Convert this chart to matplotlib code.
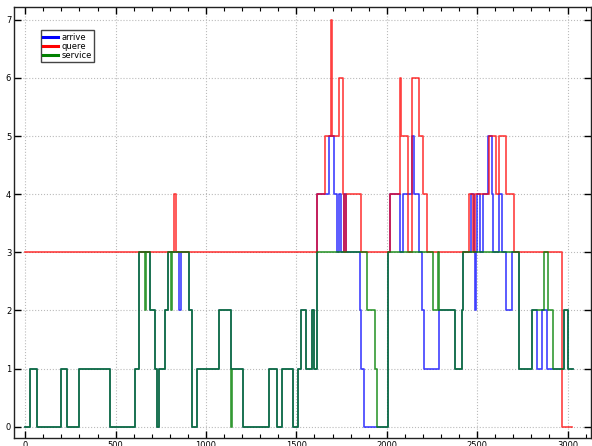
import matplotlib
matplotlib.use("Agg")
import matplotlib.pyplot as plt
from matplotlib.ticker import MultipleLocator

# Pontos de mudança (degraus) de cada série
arrive_x = [0, 24, 63, 196, 232, 297, 467, 605, 631, 688, 719, 727, 741, 771, 790, 852, 860, 906,
            924, 950, 1072, 1138, 1203, 1349, 1395, 1422, 1483, 1511, 1524, 1553, 1585, 1598, 1612,
            1616, 1683, 1710, 1727, 1738, 1748, 1765, 1775, 1852, 1858, 1876, 2008, 2018, 2072,
            2090, 2142, 2153, 2180, 2197, 2206, 2287, 2377, 2415, 2424, 2465, 2480, 2489, 2492,
            2500, 2515, 2530, 2560, 2580, 2590, 2620, 2640, 2659, 2695, 2732, 2802, 2830, 2861,
            2885, 2978, 3000, 3029]
arrive_y = [0, 1, 0, 1, 0, 1, 0, 1, 3, 2, 1, 0, 1, 2, 3, 2, 3, 2,
            0, 1, 2, 1, 0, 1, 0, 1, 0, 1, 2, 1, 2, 1, 3,
            4, 5, 4, 3, 4, 3, 4, 3, 2, 1, 0, 3, 4, 3,
            4, 5, 4, 3, 2, 1, 2, 1, 2, 3, 4, 3, 2, 3,
            4, 3, 4, 5, 4, 3, 4, 3, 2, 3, 1, 2, 1, 2,
            1, 2, 1, 1]

quere_x = [0, 824, 832, 1616, 1659, 1690, 1696, 1736, 1756, 1764, 1775, 1856, 2018, 2074, 2078,
           2116, 2142, 2181, 2203, 2225, 2453, 2475, 2487, 2563, 2605, 2620, 2659, 2705, 2972, 3024]
quere_y = [3, 4, 3, 4, 5, 7, 5, 6, 4, 3, 4, 3, 4, 6, 5,
           3, 6, 5, 4, 3, 4, 3, 4, 5, 4, 5, 4, 3, 0, 0]

service_x = [0, 24, 63, 196, 232, 297, 467, 605, 631, 660, 668, 688, 719, 727, 741, 771, 790, 806,
             812, 906, 924, 950, 1072, 1138, 1146, 1203, 1349, 1395, 1422, 1483, 1511, 1524, 1553,
             1585, 1598, 1612, 1889, 1935, 1945, 2008, 2258, 2285, 2290, 2377, 2415, 2424, 2732,
             2802, 2870, 2890, 2919, 2978, 3000, 3029]
service_y = [0, 1, 0, 1, 0, 1, 0, 1, 3, 2, 3, 2, 1, 0, 1, 2, 3, 2,
             3, 2, 0, 1, 2, 0, 1, 0, 1, 0, 1, 0, 1, 2, 1,
             2, 1, 3, 2, 1, 0, 3, 2, 3, 2, 1, 2, 3, 1,
             2, 3, 2, 1, 2, 1, 1]

fig = plt.figure(figsize=(5.92, 4.46), dpi=100)
ax = fig.add_axes([14 / 592, 7.7 / 446, 577 / 592, 431.3 / 446])

ax.step(arrive_x, arrive_y, where="post", color="blue", lw=1.2, alpha=0.75, label="arrive")
ax.step(quere_x, quere_y, where="post", color="red", lw=1.2, alpha=0.75, label="quere")
ax.step(service_x, service_y, where="post", color="green", lw=1.2, alpha=0.8, label="service")

ax.set_xlim(-62, 3130)
ax.set_ylim(-0.2, 7.22)
ax.xaxis.set_major_locator(MultipleLocator(500))
ax.xaxis.set_minor_locator(MultipleLocator(100))
ax.yaxis.set_major_locator(MultipleLocator(1))
ax.tick_params(which="both", direction="in", top=True, right=True, labelsize=6, pad=2)
ax.tick_params(which="major", length=5, width=1)
ax.tick_params(which="minor", length=3, width=0.8)
ax.grid(True, which="major", linestyle=":", color="#bbbbbb", lw=0.8)
for s in ax.spines.values():
    s.set_linewidth(1)
    s.set_color("#222222")

leg = ax.legend(loc="upper left", fontsize=6, fancybox=False, framealpha=1,
                edgecolor="#444444", handlelength=1.8, borderpad=0.3, labelspacing=0.0,
                handletextpad=0.4, bbox_to_anchor=(0.039, 0.956))
leg.get_frame().set_linewidth(1)
for line in leg.get_lines():
    line.set_linewidth(2.2)
    line.set_alpha(1)

fig.savefig("out.png", dpi=100)
